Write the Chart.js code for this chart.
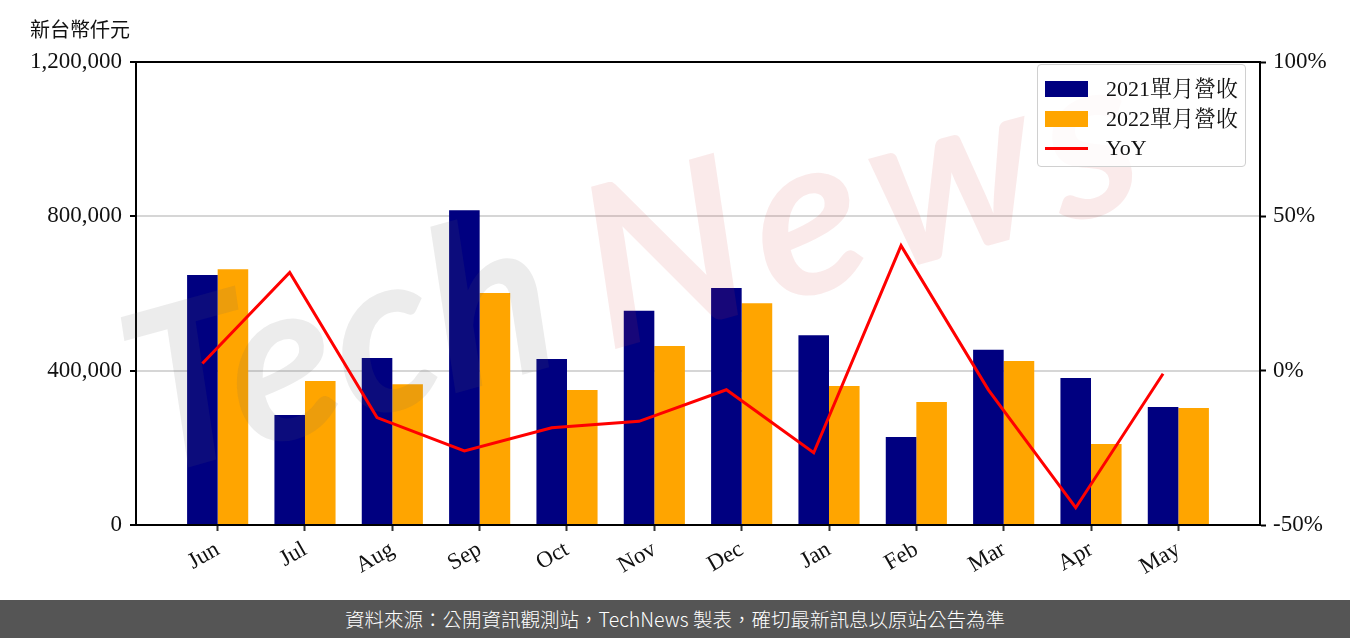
<!DOCTYPE html>
<html>
<head>
<meta charset="utf-8">
<script src="https://cdn.jsdelivr.net/npm/chart.js@4"></script>
<style>
  html, body { margin: 0; padding: 0; background: #fff; }
  #wrap { position: relative; width: 1350px; height: 638px; overflow: hidden; }
  #chartBox { position: absolute; left: 0; top: 0; width: 1350px; height: 600px; }
  #unit { position: absolute; left: 30px; top: 14px; font: 20px 'Noto Sans CJK TC', 'Noto Sans', sans-serif; color: #111; }
  #footer { position: absolute; left: 0; top: 600px; width: 1350px; height: 38px; background: #555; color: #fff;
            font: 19.5px 'Noto Sans CJK TC', 'Noto Sans', sans-serif; font-weight: 300; text-align: center; line-height: 38px; }
  #legend { position: absolute; left: 1037px; top: 64px; width: 207px; height: 101px;
            border: 1.5px solid #d0d0d0; border-radius: 4px; background: rgba(255,255,255,0.8); }
  .row { position: absolute; left: 0; height: 26px; width: 100%;
         font: 22px 'Liberation Serif', 'Noto Serif CJK TC', 'Noto Sans CJK TC', serif; color: #111; }
  .sw { position: absolute; left: 7px; width: 43px; }
  .lab { position: absolute; left: 68px; top: 0; line-height: 26px; white-space: nowrap; }
</style>
</head>
<body>
<div id="wrap">
  <div id="chartBox"><canvas id="revChart"></canvas></div>
  <div id="unit">新台幣仟元</div>
  <div id="legend"></div>
  <div id="footer">資料來源：公開資訊觀測站，TechNews 製表，確切最新訊息以原站公告為準</div>
</div>
<script>
// ---- data ----
const months = ['Jun','Jul','Aug','Sep','Oct','Nov','Dec','Jan','Feb','Mar','Apr','May'];
const rev2021 = [648000, 285000, 433000, 816000, 430000, 555000, 614000, 492000, 228000, 454000, 381000, 306000];
const rev2022 = [663000, 373000, 365000, 601000, 350000, 464000, 575000, 360000, 319000, 425000, 210000, 303000];
const yoy = [2.3, 31.8, -15.2, -26.0, -18.5, -16.4, -6.2, -26.6, 40.5, -6.2, -44.4, -1.0];
const revTicks = [0, 400000, 800000, 1200000];
const pctTicks = [-50, 0, 50, 100];
const seriesNames = ['2021單月營收', '2022單月營收', 'YoY'];

const NAVY = '#000080', ORANGE = '#FFA500', RED = '#FF0000';
const BAR_W = 0.35;
const tickFont = { family: "'Liberation Serif', 'Noto Serif CJK TC', serif", size: 23 };

// bars grouped around the tick; 2021 bar centred on the month index, like the source
const barX = months.map((m, i) => i + BAR_W / 2);

// legend (html overlay)
(function buildLegend() {
  const lg = document.getElementById('legend');
  const rows = [
    { name: seriesNames[0], color: NAVY, kind: 'bar' },
    { name: seriesNames[1], color: ORANGE, kind: 'bar' },
    { name: seriesNames[2], color: RED, kind: 'line' }
  ];
  lg.innerHTML = rows.map((r, i) => {
    const top = 11 + i * 29.5;
    const sw = r.kind === 'bar'
      ? `<div class="sw" style="top:5px;height:16px;background:${r.color}"></div>`
      : `<div class="sw" style="top:11.5px;height:3px;background:${r.color}"></div>`;
    return `<div class="row" style="top:${top}px">${sw}<span class="lab">${r.name}</span></div>`;
  }).join('');
})();

// watermark + top spine
const watermark = {
  id: 'watermark',
  beforeDatasetDraw(chart, args) {
    if (args.meta.type !== 'line') return;
    const ctx = chart.ctx;
    ctx.save();
    ctx.translate(150, 478);
    ctx.rotate(-15.5 * Math.PI / 180);
    ctx.font = "bold italic 225px Lato, 'DejaVu Sans', sans-serif";
    ctx.textBaseline = 'alphabetic';
    ctx.fillStyle = 'rgba(100,100,100,0.12)';
    ctx.fillText('Tech', 0, 0);
    const w = ctx.measureText('Tech').width;
    ctx.letterSpacing = '14px';
    ctx.fillStyle = 'rgba(210,60,60,0.11)';
    ctx.fillText('News', w + 40, 0);
    ctx.restore();
  },
  afterDraw(chart) {
    const { ctx, chartArea: a } = chart;
    ctx.save();
    ctx.strokeStyle = '#000';
    ctx.lineWidth = 2;
    ctx.beginPath();
    ctx.moveTo(a.left - 1, a.top);
    ctx.lineTo(a.right + 1, a.top);
    ctx.stroke();
    ctx.restore();
  }
};

new Chart(document.getElementById('revChart'), {
  type: 'bar',
  data: {
    datasets: [
      {
        type: 'line',
        label: seriesNames[2],
        data: months.map((m, i) => ({ x: i, y: yoy[i] })),
        yAxisID: 'y1',
        borderColor: RED,
        borderWidth: 3,
        pointRadius: 0,
        tension: 0,
        order: 0
      },
      {
        label: seriesNames[0],
        data: months.map((m, i) => ({ x: barX[i], y: rev2021[i] })),
        backgroundColor: NAVY,
        yAxisID: 'y',
        order: 1
      },
      {
        label: seriesNames[1],
        data: months.map((m, i) => ({ x: barX[i], y: rev2022[i] })),
        backgroundColor: ORANGE,
        yAxisID: 'y',
        order: 1
      }
    ]
  },
  options: {
    responsive: true,
    maintainAspectRatio: false,
    animation: false,
    categoryPercentage: BAR_W * 2,
    barPercentage: 1,
    layout: { padding: { top: 62, left: 0, right: 0, bottom: 0 } },
    plugins: { legend: { display: false }, tooltip: { enabled: false } },
    scales: {
      x: {
        type: 'linear',
        offset: false,
        min: -0.76,
        max: 12.11,
        afterBuildTicks: (s) => { s.ticks = barX.map(v => ({ value: v })); },
        afterFit: (s) => { s.height = 75; },
        ticks: {
          font: tickFont,
          color: '#111',
          minRotation: 30,
          maxRotation: 30,
          padding: 5,
          callback: (v, idx) => months[idx]
        },
        grid: { offset: false, drawOnChartArea: false, drawTicks: true, tickLength: 6, tickColor: '#333', tickWidth: 2 },
        border: { color: '#000', width: 2 }
      },
      y: {
        position: 'left',
        min: 0,
        max: 1200000,
        afterBuildTicks: (s) => { s.ticks = revTicks.map(v => ({ value: v })); },
        afterFit: (s) => { s.width = 136; },
        ticks: {
          font: tickFont,
          color: '#111',
          padding: 8,
          callback: (v) => v.toLocaleString('en-US')
        },
        grid: { color: '#d6d6d6', lineWidth: 2, tickLength: 6, tickColor: '#000', tickWidth: 2 },
        border: { color: '#000', width: 2 }
      },
      y1: {
        position: 'right',
        min: -50,
        max: 100,
        afterBuildTicks: (s) => { s.ticks = pctTicks.map(v => ({ value: v })); },
        afterFit: (s) => { s.width = 90; },
        ticks: {
          font: tickFont,
          color: '#111',
          padding: 7,
          callback: (v) => v + '%'
        },
        grid: { drawOnChartArea: false, tickLength: 6, tickColor: '#000', tickWidth: 2 },
        border: { color: '#000', width: 2 }
      }
    }
  },
  plugins: [watermark]
});
</script>
</body>
</html>
